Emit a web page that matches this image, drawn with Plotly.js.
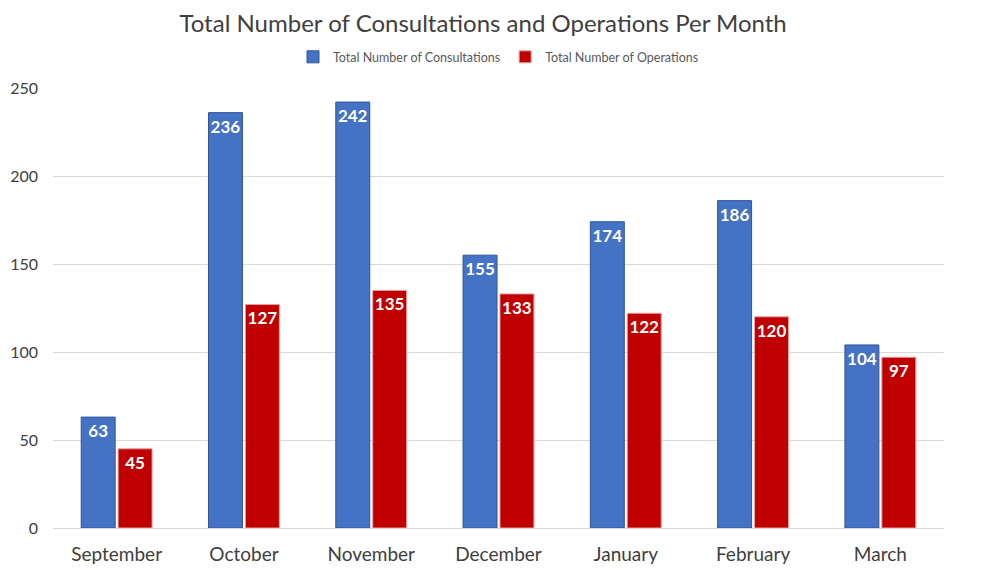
<!DOCTYPE html>
<html><head><meta charset="utf-8">
<script src="https://cdn.plot.ly/plotly-3.0.1.min.js"></script>
<style>body{margin:0;background:#fff}#chart{width:986px;height:570px}</style>
</head><body><div id="chart"></div>
<script>
const months = ["September","October","November","December","January","February","March"];
const consultations = [63,236,242,155,174,186,104];
const operations = [45,127,135,133,122,120,97];
const seriesNames = ["Total Number of Consultations","Total Number of Operations"];
const yTicks = [0,50,100,150,200,250];

const FONT = "Lato, 'Open Sans', sans-serif";
const mk = (vals, name, color, line) => ({
  type:'bar', x:months, y:vals, name:name,
  marker:{color:color, line:{color:line, width:1}},
  text:vals.map(String), textposition:'inside', insidetextanchor:'end',
  constraintext:'none', textangle:0,
  textfont:{family:FONT, size:17, color:'#ffffff', weight:'bold'},
  hoverinfo:'x+y'
});
const data = [
  mk(consultations, seriesNames[0], '#4472C4', '#2F5597'),
  mk(operations, seriesNames[1], '#C00000', '#E8A0A0')
];
const layout = {
  width:986, height:570,
  margin:{l:53, r:42, t:88, b:42},
  paper_bgcolor:'#fff', plot_bgcolor:'#fff',
  font:{family:FONT, color:'#595959'},
  title:{text:'Total Number of Consultations and Operations Per Month', x:0.49, xanchor:'center', y:0.958, yanchor:'middle', yref:'container', xref:'container', font:{size:24, color:'#404040', family:FONT}},
  barmode:'group', bargap:0.42, bargroupgap:0.08,
  legend:{orientation:'h', x:0.5, xanchor:'center', y:1.07, yanchor:'middle', font:{size:12.5, color:'#595959'}, itemwidth:30, traceorder:'normal'},
  xaxis:{type:'category', showgrid:false, showline:false, ticks:'', tickfont:{size:19, color:'#404040'}, ticklabelstandoff:13},
  yaxis:{range:[0,250], tickvals:yTicks, ticktext:yTicks.map(String), showgrid:true, gridcolor:'#D9D9D9', gridwidth:1, zeroline:true, zerolinecolor:'#D9D9D9', zerolinewidth:1, showline:false, ticks:'', tickfont:{size:16, color:'#404040'}, ticklabelstandoff:14}
};
Plotly.newPlot('chart', data, layout, {displayModeBar:false, staticPlot:true});
</script></body></html>
